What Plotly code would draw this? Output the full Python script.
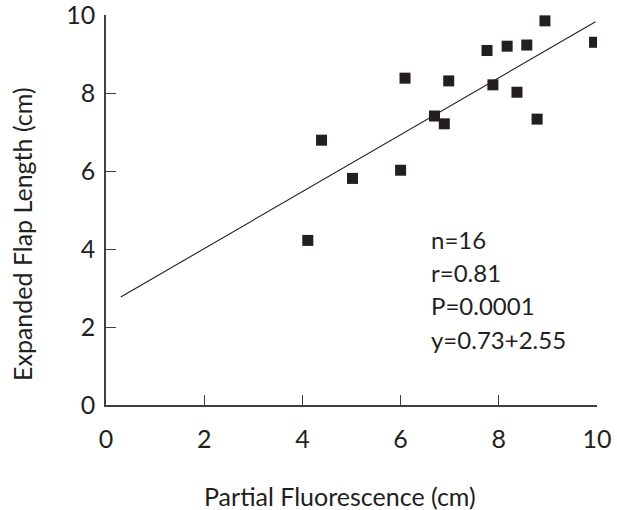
import plotly.graph_objects as go

# Data
partial_fluorescence = [4.11, 4.39, 5.02, 6.00, 6.09, 6.69, 6.89, 6.98,
                        7.76, 7.88, 8.17, 8.37, 8.57, 8.78, 8.94, 9.95]
flap_length = [4.22, 6.79, 5.81, 6.02, 8.38, 7.41, 7.21, 8.31,
               9.09, 8.21, 9.20, 8.02, 9.23, 7.33, 9.85, 9.30]
fit_slope = 0.73
fit_intercept = 2.55
fit_x = [0.3, 9.97]
fit_y = [fit_slope * x + fit_intercept for x in fit_x]
stats_lines = ["n=16", "r=0.81", "P=0.0001", "y=0.73+2.55"]
stats_y = [4.24, 3.39, 2.54, 1.69]
tick_vals = [0, 2, 4, 6, 8, 10]

FONT = "Lato"
FS = 25
INK = "#231f20"

L, R, T, B = 106, 20, 15, 105
W, H = 617, 510
pw, ph = W - L - R, H - T - B


def px_to_paper(px, py):
    return (px - L) / pw, (H - B - py) / ph


fig = go.Figure()
fig.add_trace(go.Scatter(x=fit_x, y=fit_y, mode="lines",
                         line=dict(color=INK, width=1.1), showlegend=False))
fig.add_trace(go.Scatter(x=partial_fluorescence, y=flap_length, mode="markers",
                         marker=dict(symbol="square", size=11, color=INK,
                                     line=dict(width=0)),
                         showlegend=False))

for txt, yy in zip(stats_lines, stats_y):
    fig.add_annotation(x=6.58, y=yy, xref="x", yref="y", text=txt,
                       showarrow=False, xanchor="left", yanchor="middle",
                       font=dict(family=FONT, size=24, color=INK))

xt, yt = px_to_paper(340, 496)
fig.add_annotation(x=xt, y=yt, xref="paper", yref="paper", text="Partial Fluorescence (cm)",
                   showarrow=False, xanchor="center", yanchor="middle",
                   font=dict(family=FONT, size=FS, color=INK))
xt, yt = px_to_paper(22, 234)
fig.add_annotation(x=xt, y=yt, xref="paper", yref="paper", text="Expanded Flap Length (cm)",
                   textangle=-90, showarrow=False, xanchor="center", yanchor="middle",
                   font=dict(family=FONT, size=FS, color=INK))

axis_common = dict(range=[0, 10], tickvals=tick_vals, ticks="inside", ticklen=10,
                   tickcolor="#404040", tickwidth=1.2, showline=True,
                   linecolor="#404040", linewidth=1.5, showgrid=False, zeroline=False,
                   automargin=False, ticklabeloverflow="allow",
                   tickfont=dict(family=FONT, size=FS, color=INK))

fig.update_xaxes(**axis_common, ticklabelstandoff=11)
fig.update_yaxes(**axis_common, ticklabelstandoff=4)

fig.update_layout(width=W, height=H, margin=dict(l=L, r=R, t=T, b=B),
                  paper_bgcolor="white", plot_bgcolor="white",
                  font=dict(family=FONT, size=FS, color=INK))

fig.write_html("out.html", config={"displayModeBar": False},
               post_script="document.body.style.margin='0px';")
